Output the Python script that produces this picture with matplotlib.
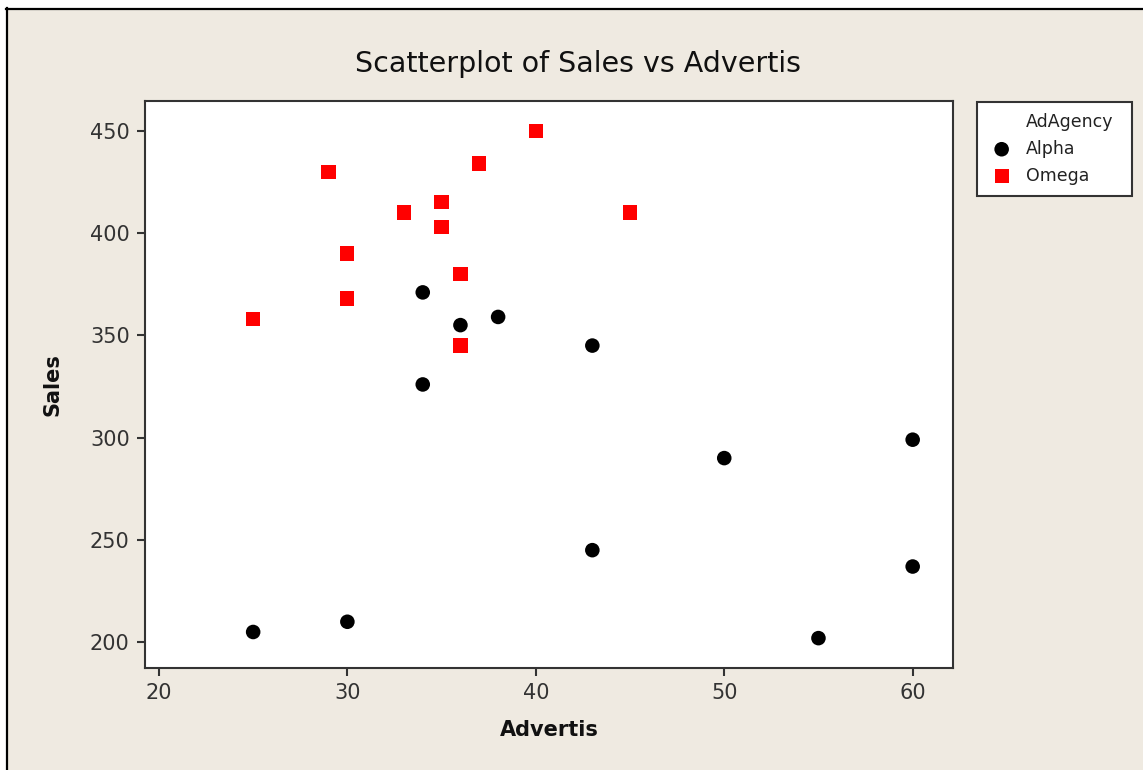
import matplotlib
matplotlib.use("Agg")
import matplotlib.pyplot as plt
from matplotlib.lines import Line2D
from matplotlib.patches import Rectangle

# ---- data ----
alpha_adv = [25, 30, 34, 34, 36, 38, 43, 43, 50, 55, 60, 60]
alpha_sales = [205, 210, 371, 326, 355, 359, 345, 245, 290, 202, 299, 237]
omega_adv = [25, 29, 30, 30, 33, 35, 35, 36, 36, 37, 40, 45]
omega_sales = [358, 430, 390, 368, 410, 415, 403, 380, 345, 434, 450, 410]
x_ticks = [20, 30, 40, 50, 60]
y_ticks = [200, 250, 300, 350, 400, 450]
title = "Scatterplot of Sales vs Advertis"
legend_title = "AdAgency"
groups = ["Alpha", "Omega"]

W, H = 1143, 770
BG = "#EFEAE1"
fig = plt.figure(figsize=(W / 100, H / 100), dpi=100)
fig.patch.set_facecolor("white")

# window-like frame
fig.patches.append(Rectangle((7 / W, 0), 1 - 7 / W, 1 - 9 / H, transform=fig.transFigure,
                             facecolor=BG, edgecolor="none", zorder=-5))
fig.lines.append(Line2D([6.5 / W, 6.5 / W], [0, 1 - 8 / H], transform=fig.transFigure,
                        color="black", lw=1.6, zorder=-4))
fig.lines.append(Line2D([6 / W, 1], [1 - 8.5 / H, 1 - 8.5 / H], transform=fig.transFigure,
                        color="black", lw=1.6, zorder=-4))

L, R, T, B = 145, 953, 100.7, 668
ax = fig.add_axes([L / W, 1 - B / H, (R - L) / W, (B - T) / H])
ax.set_facecolor("white")

h1 = ax.scatter(alpha_adv, alpha_sales, marker="o", s=110, color="black", label=groups[0],
                edgecolors="none", zorder=3)
h2 = ax.scatter(omega_adv, omega_sales, marker="s", s=105, color="#FF0000", label=groups[1],
                edgecolors="none", zorder=3)

ax.set_xlim(19.26, 62.14)
ax.set_ylim(187.4, 464.7)
ax.set_xticks(x_ticks)
ax.set_yticks(y_ticks)

for s in ax.spines.values():
    s.set_linewidth(1.5)
    s.set_color("#333333")
ax.tick_params(axis="both", direction="out", length=6, width=1.5, color="#333333",
               labelsize=15, labelcolor="#333333", pad=5)

ax.set_xlabel("Advertis", fontsize=15, fontweight="bold", color="#111111", labelpad=12)
ax.set_ylabel("Sales", fontsize=15, fontweight="bold", color="#111111", labelpad=20)

fig.text(578 / W, 1 - 64 / H, title, ha="center", va="center", fontsize=20.5, color="#111111")

blank = Line2D([], [], linestyle="none", marker=None)
leg = fig.legend([blank, h1, h2], [legend_title] + groups,
                 loc="upper left",
                 bbox_to_anchor=(977 / W, 1 - 193 / H, (1132 - 977) / W, (193 - 102) / H),
                 mode="expand", fontsize=12.5, frameon=True, fancybox=False, framealpha=1,
                 handletextpad=0.6, labelspacing=0.52, borderpad=0.62, handlelength=1.6,
                 markerscale=1.0, borderaxespad=0)
leg.get_frame().set_edgecolor("#333333")
leg.get_frame().set_linewidth(1.5)
leg.get_frame().set_facecolor("white")
for t in leg.get_texts():
    t.set_color("#222222")

fig.savefig("out.png", dpi=100, facecolor=fig.get_facecolor())
